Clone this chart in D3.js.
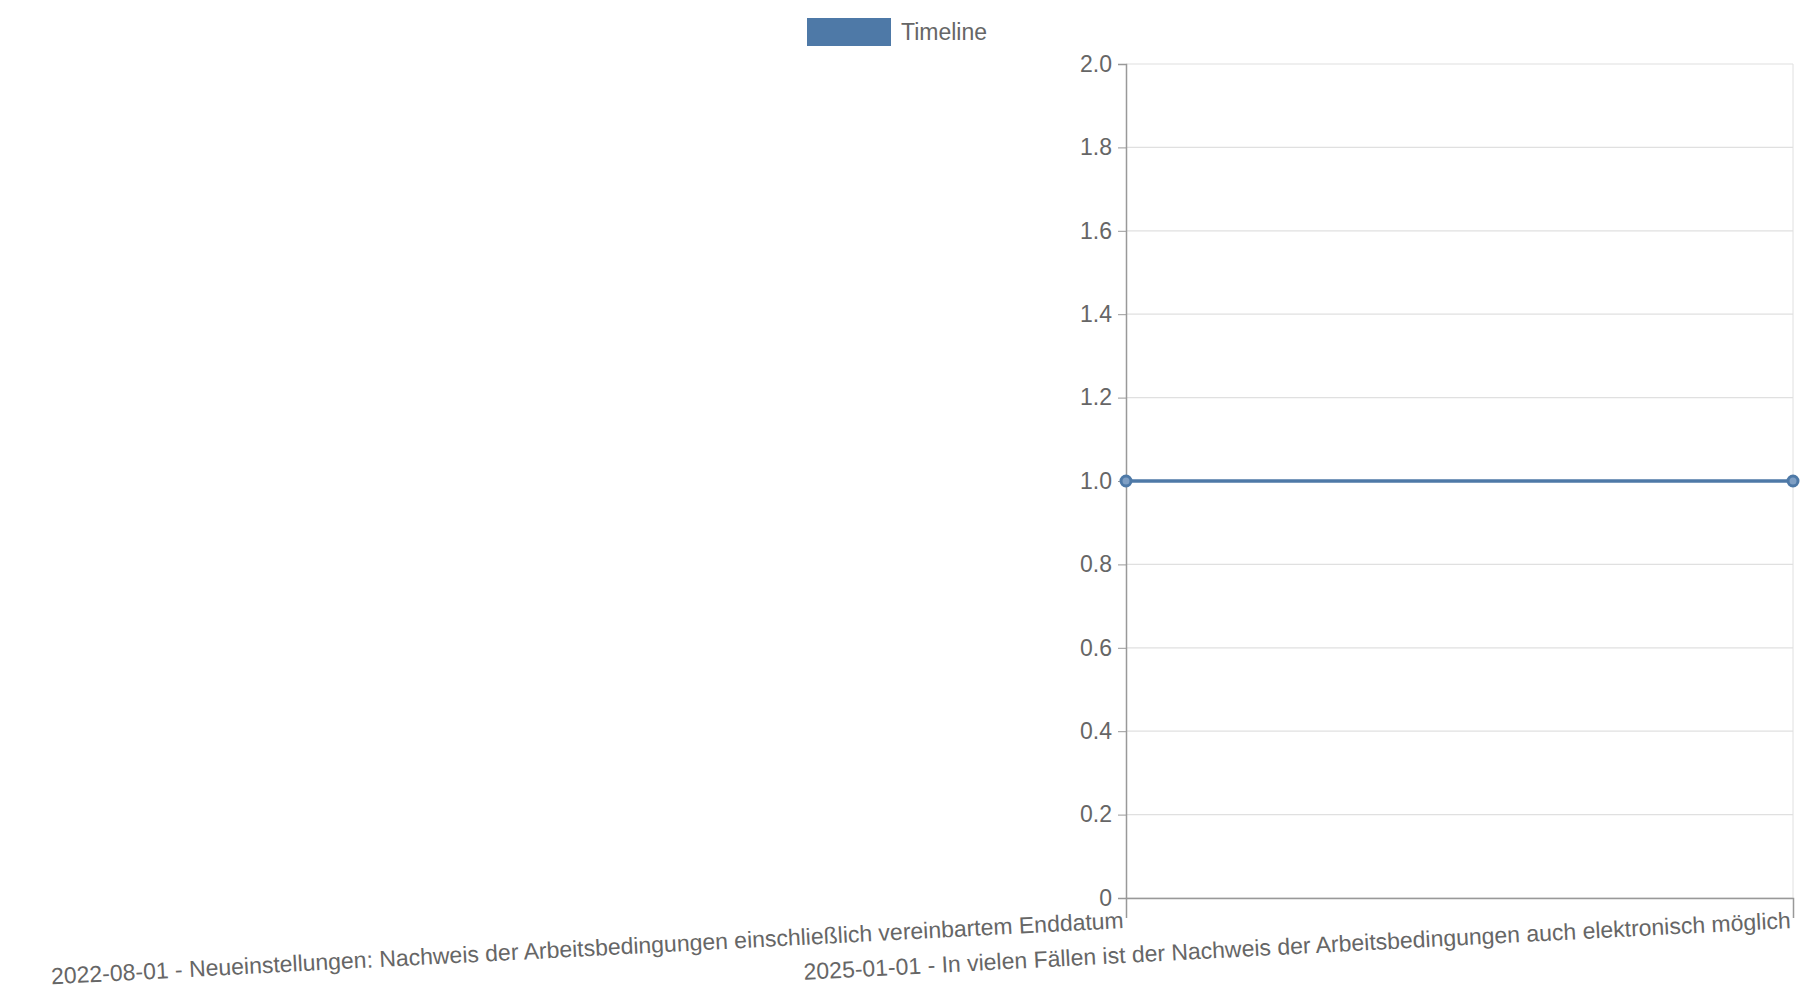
<!DOCTYPE html>
<html><head><meta charset="utf-8">
<script src="https://cdn.jsdelivr.net/npm/d3@7"></script>
<style>body{margin:0;background:#fff}svg{display:block}text{font-family:"Liberation Sans",Arial,sans-serif;fill:#666}</style>
</head><body>
<script>
const categories = ["2022-08-01 - Neueinstellungen: Nachweis der Arbeitsbedingungen einschließlich vereinbartem Enddatum",
  "2025-01-01 - In vielen Fällen ist der Nachweis der Arbeitsbedingungen auch elektronisch möglich"];
const values = [1, 1];
const yTicks = [0, 0.2, 0.4, 0.6, 0.8, 1.0, 1.2, 1.4, 1.6, 1.8, 2.0];
const seriesName = "Timeline";
const color = "#4e79a7";

const W = 1800, H = 1000;
const m = {l:1126, r:7, t:64, b:102};
const svg = d3.select("body").append("svg").attr("width", W).attr("height", H);
const x = d3.scalePoint().domain(categories).range([m.l, W - m.r]);
const y = d3.scaleLinear().domain([0, 2]).range([H - m.b, m.t]);

// grid
svg.append("g").selectAll("line").data(yTicks).join("line")
  .attr("x1", m.l).attr("x2", W - m.r).attr("y1", d => y(d)).attr("y2", d => y(d))
  .attr("stroke", "#e0e0e0").attr("stroke-width", 1.2);
svg.append("line").attr("x1", W - m.r).attr("x2", W - m.r).attr("y1", m.t).attr("y2", H - m.b).attr("stroke", "#e0e0e0");

// y axis
const ya = svg.append("g").attr("transform", `translate(${m.l},0)`)
  .call(d3.axisLeft(y).tickValues(yTicks).tickSize(8).tickPadding(6).tickFormat(d => d === 0 ? "0" : d3.format(".1f")(d)));
ya.select(".domain").attr("stroke", "#999").attr("stroke-width", 1.5);
ya.selectAll(".tick line").attr("stroke", "#999");
ya.selectAll("text").style("font-size", "23px").attr("fill", "#666");

// x axis
const xa = svg.append("g").attr("transform", `translate(0,${H - m.b})`)
  .call(d3.axisBottom(x).tickSize(20).tickFormat(""));
xa.select(".domain").attr("stroke", "#999").attr("stroke-width", 1.5);
xa.selectAll(".tick line").attr("stroke", "#999");
svg.append("g").selectAll("text").data(categories).join("text")
  .attr("transform", d => `translate(${x(d) - 2},${H - m.b + 30}) rotate(-3)`)
  .attr("text-anchor", "end").style("font-size", "23px").text(d => d);

// line
svg.append("path").datum(values).attr("fill", "none").attr("stroke", color).attr("stroke-width", 3.5)
  .attr("d", d3.line().x((d, i) => x(categories[i])).y(d => y(d)));
svg.append("g").selectAll("circle").data(values).join("circle")
  .attr("cx", (d, i) => x(categories[i])).attr("cy", d => y(d)).attr("r", 5)
  .attr("fill", "#7f9fc4").attr("stroke", color).attr("stroke-width", 3);

// legend
svg.append("rect").attr("x", 807).attr("y", 18).attr("width", 84).attr("height", 28).attr("fill", color);
svg.append("text").attr("x", 901).attr("y", 40).style("font-size", "23px").text(seriesName);
</script>
</body></html>
